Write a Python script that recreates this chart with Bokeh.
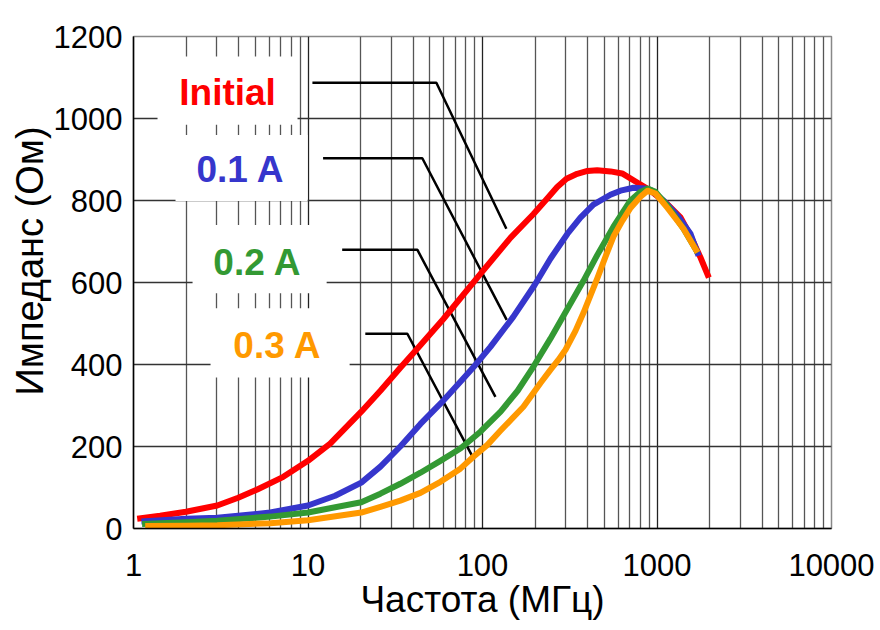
from bokeh.plotting import figure
from bokeh.models import Range1d, FixedTicker, BoxAnnotation, Label, Title, CustomJSTickFormatter
from bokeh.embed import file_html
from bokeh.resources import INLINE

# ---- data ----
x_ticks = [1, 10, 100, 1000, 10000]
y_ticks = [0, 200, 400, 600, 800, 1000, 1200]

initial_x = [1.05, 1.42, 2.0, 3.02, 3.98, 5.12, 7.22, 10.0, 13.4, 20.2, 26.0, 34.3, 42.4, 59.7, 97.3,
             144.5, 196, 229.5, 268, 303, 349, 399.5, 454, 541, 631, 770, 918, 1145, 1364, 1556, 1775, 1982]
initial_y = [24, 31, 41, 56, 75, 95, 126, 165, 207, 285, 336, 395, 439, 511, 621,
             709, 767, 800, 833, 853, 865, 872, 874, 871, 866, 844, 824, 791, 759, 714, 661, 612]

a01_x = [1.11, 2.0, 3.02, 6.08, 10.0, 14.3, 20.2, 26.0, 33.8, 44.1, 59.7, 74.7, 91.1, 111, 150,
         199, 245, 307, 364, 432, 541, 618, 733, 859, 918, 1089, 1312, 1556, 1730]
a01_y = [17, 24, 26, 39, 56, 80, 112, 151, 200, 255, 312, 358, 399, 443, 516,
         594, 658, 719, 758, 790, 814, 824, 831, 829, 826, 800, 763, 719, 665]

a02_x = [1.12, 2.0, 3.02, 6.08, 10.0, 20.2, 26.0, 33.8, 44.1, 57.4, 74.7, 97.3, 127, 159, 196,
         245, 307, 379, 456, 563, 705, 804, 882, 980, 1148, 1419, 1707]
a02_y = [11, 15, 19, 29, 39, 64, 85, 109, 136, 165, 195, 236, 285, 336, 395,
         463, 536, 604, 668, 736, 800, 821, 829, 821, 787, 731, 673]

a03_x = [1.167, 2.0, 3.02, 6.08, 10.0, 20.2, 26.0, 33.8, 44.1, 57.4, 74.7, 88.7, 106.7, 127, 171.6,
         215, 245, 272, 299, 341, 379, 456, 507, 563, 634, 705, 804, 882, 980, 1148, 1419, 1707]
a03_y = [6, 7, 8, 13, 20, 39, 53, 68, 87, 114, 146, 175, 204, 239, 297,
         355, 387, 411, 436, 482, 526, 611, 663, 712, 751, 782, 809, 824, 817, 782, 731, 673]

series_names = ["Initial", "0.1 A", "0.2 A", "0.3 A"]
series_colors = ["#FF0000", "#3636CC", "#339933", "#FF9900"]

# label positions (text centre) and white boxes behind them
label_x = [3.46, 4.11, 5.14, 6.69]
label_y = [1063, 875, 650, 446]
box_left = [1.373, 1.741, 2.18, 2.764]
box_right = [8.71, 9.95, 12.79, 17.32]
box_bottom = [985, 799, 574, 368]
box_top = [1151, 960, 740, 537]

# leader lines (start, corner, end)
leader_x = [[10.6, 54.4, 137], [12.2, 45.2, 137.6], [15.7, 42.3, 118.6], [21.3, 37.1, 88.3]]
leader_y = [[1087, 1087, 731], [903, 903, 509], [680, 680, 321], [475, 475, 173]]

minor_x = [m * 10 ** d for d in range(0, 4) for m in range(2, 10)]

x_title = "Частота (МГц)"
y_title = "Импеданс (Ом)"

FONT = "Liberation Sans"

p = figure(width=880, height=630, x_axis_type="log",
           x_range=Range1d(1, 10000), y_range=Range1d(0, 1200),
           output_backend="svg", toolbar_location=None,
           min_border_left=133, min_border_right=49,
           min_border_top=36, min_border_bottom=102)

p.background_fill_color = "white"
p.outline_line_color = "#888888"
p.outline_line_width = 1.5

p.xaxis.ticker = FixedTicker(ticks=x_ticks, minor_ticks=minor_x)
p.yaxis.ticker = FixedTicker(ticks=y_ticks)
p.xaxis.formatter = CustomJSTickFormatter(code="return tick.toFixed(0)")

for ax in (p.xaxis, p.yaxis):
    ax.major_tick_line_color = None
    ax.minor_tick_line_color = None
    ax.major_tick_out = 0
    ax.major_tick_in = 0
    ax.minor_tick_out = 0
    ax.minor_tick_in = 0
    ax.axis_line_color = "black"
    ax.axis_line_width = 1.5
    ax.major_label_text_font = FONT
    ax.major_label_text_font_size = "31px"
    ax.major_label_text_color = "black"
    ax.axis_label_text_font = FONT
    ax.axis_label_text_font_size = "37px"
    ax.axis_label_text_font_style = "normal"
    ax.axis_label_text_color = "black"

p.xaxis.axis_label = x_title
p.xaxis.major_label_standoff = 25
p.yaxis.major_label_standoff = 11
p.xaxis.axis_label_standoff = 0

p.xgrid.grid_line_color = "#222222"
p.xgrid.grid_line_width = 1.3
p.xgrid.minor_grid_line_color = "#555555"
p.xgrid.minor_grid_line_width = 1.3
p.ygrid.grid_line_color = "#333333"
p.ygrid.grid_line_width = 1.3

# y-axis title as a side title, starting a little above the frame bottom
p.add_layout(Title(text=y_title, align="left", offset=133, standoff=0,
                   text_font=FONT, text_font_size="38px",
                   text_font_style="normal", text_color="black"), "left")

# white boxes behind labels
for l, r, b, t in zip(box_left, box_right, box_bottom, box_top):
    p.add_layout(BoxAnnotation(left=l, right=r, bottom=b, top=t,
                               fill_color="white", fill_alpha=1.0,
                               line_color=None, level="underlay"))

# leader lines
for lx, ly in zip(leader_x, leader_y):
    p.line(lx, ly, line_color="black", line_width=2.5)

# curves
for xs, ys, c in zip([initial_x, a01_x, a02_x, a03_x],
                     [initial_y, a01_y, a02_y, a03_y], series_colors):
    p.line(xs, ys, line_color=c, line_width=6, line_join="round", line_cap="butt")

# labels
for name, c, lx, ly in zip(series_names, series_colors, label_x, label_y):
    p.add_layout(Label(x=lx, y=ly, text=name, text_align="center",
                       text_baseline="middle", text_font=FONT,
                       text_font_size="37px", text_font_style="bold",
                       text_color=c))

open("out.html", "w").write(file_html(p, INLINE))
